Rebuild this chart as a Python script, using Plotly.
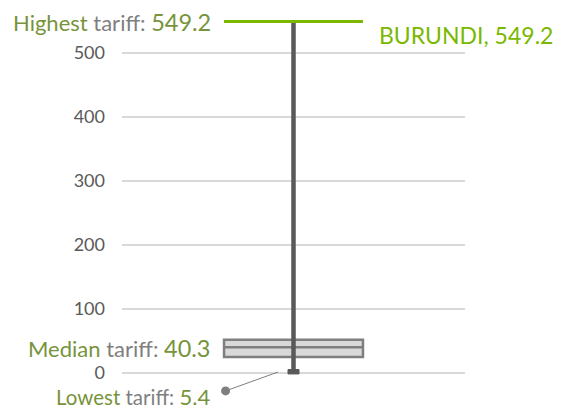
import plotly.graph_objects as go

# Data
lowest = 5.4
q1 = 25.0
median = 40.3
q3 = 52.0
highest = 549.2
highest_country = "BURUNDI"
y_ticks = [0, 100, 200, 300, 400, 500]

OLIVE = "#77933C"
BRIGHT = "#7AB800"
GREY_T = "#7f7f7f"
FONT = "Lato, 'Open Sans', sans-serif"

cx = 0.5
bw = 0.405

fig = go.Figure()
# Box
fig.add_trace(go.Bar(x=[cx], y=[q3 - q1], base=[q1], width=[bw],
                     marker=dict(color="#d9d9d9", line=dict(color="#7f7f7f", width=2.5)),
                     hoverinfo="skip", showlegend=False))
# Median line
fig.add_trace(go.Scatter(x=[cx - bw / 2, cx + bw / 2], y=[median, median], mode="lines",
                         line=dict(color="#7f7f7f", width=2.5), hoverinfo="skip", showlegend=False))
# Whisker
fig.add_trace(go.Scatter(x=[cx, cx], y=[lowest, highest], mode="lines",
                         line=dict(color="#595959", width=4.5), hoverinfo="skip", showlegend=False))
# Bottom cap
fig.add_trace(go.Bar(x=[cx], y=[lowest + 1.5], base=[-1.5], width=[0.032],
                     marker=dict(color="#595959", line=dict(color="#595959", width=1)),
                     hoverinfo="skip", showlegend=False))
# Highest line
fig.add_trace(go.Scatter(x=[cx - bw / 2, cx + bw / 2], y=[highest, highest], mode="lines",
                         line=dict(color=BRIGHT, width=3), hoverinfo="skip", showlegend=False))
# Lowest callout
fig.add_trace(go.Scatter(x=[0.302, 0.455], y=[-28, 1.5], mode="lines",
                         line=dict(color="#7f7f7f", width=1), hoverinfo="skip", showlegend=False))
fig.add_trace(go.Scatter(x=[0.302], y=[-28], mode="markers",
                         marker=dict(color="#7f7f7f", size=9), hoverinfo="skip", showlegend=False))

big = "font-size:23.5px"
fig.add_annotation(x=0.264, y=highest, xref="x", yref="y", xanchor="right", yanchor="middle",
                   text=f"<span style='color:{OLIVE}'>Highest</span> tariff: <span style='color:{OLIVE};{big}'>{highest}</span>",
                   showarrow=False, font=dict(family=FONT, size=22, color=GREY_T))
fig.add_annotation(x=0.261, y=median - 1, xref="x", yref="y", xanchor="right", yanchor="middle",
                   text=f"<span style='color:{OLIVE}'>Median</span> tariff: <span style='color:{OLIVE};{big}'>{median}</span>",
                   showarrow=False, font=dict(family=FONT, size=22, color=GREY_T))
fig.add_annotation(x=0.261, y=-37.5, xref="x", yref="y", xanchor="right", yanchor="middle",
                   text=f"<span style='color:{OLIVE}'>Lowest</span> tariff: <span style='color:{OLIVE};font-size:22px'>{lowest}</span>",
                   showarrow=False, font=dict(family=FONT, size=20.5, color=GREY_T))
fig.add_annotation(x=0.742, y=528, xref="x", yref="y", xanchor="left", yanchor="middle",
                   text=f"{highest_country}, {highest}",
                   showarrow=False, font=dict(family=FONT, size=23, color=BRIGHT))

fig.update_layout(
    width=563, height=410,
    margin=dict(l=114, r=106, t=0, b=15),
    paper_bgcolor="white", plot_bgcolor="white",
    font=dict(family=FONT, size=18, color="#595959"),
    barmode="overlay",
    xaxis=dict(range=[0, 1], visible=False, fixedrange=True),
    yaxis=dict(range=[-46.9, 570.3], tickvals=y_ticks, ticktext=[str(v) for v in y_ticks],
               showgrid=True, gridcolor="#d9d9d9", gridwidth=1.5, zeroline=False,
               showline=False, ticks="", ticklabelstandoff=16,
               tickfont=dict(family=FONT, size=18, color="#595959")),
)
fig.write_html("out.html")
